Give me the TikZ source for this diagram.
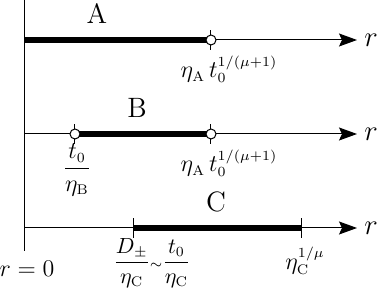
\documentclass[tikz,border=0pt]{standalone}
\usepackage{amsmath}
\DeclareMathSizes{11.5}{11.5}{7.5}{5.5}
\DeclareMathSizes{10.5}{10.5}{7}{5}
\usetikzlibrary{arrows.meta}
\begin{document}
\begin{tikzpicture}[x=0.5pt,y=-0.5pt,
  axis/.style={line width=0.5pt,-{Stealth[length=9pt,width=6.5pt,inset=1.5pt]}},
  seg/.style={line width=3pt},
  tick/.style={line width=0.5pt},
  hole/.style={circle,draw,fill=white,line width=0.5pt,inner sep=0pt,minimum size=5pt},
  lbl/.style={font=\fontsize{14}{16}\selectfont,inner sep=0pt},
  rlbl/.style={font=\fontsize{15}{17}\selectfont,inner sep=0pt},
  mlbl/.style={font=\fontsize{11.5}{13}\selectfont,inner sep=0pt},
  slbl/.style={font=\fontsize{10.5}{12}\selectfont,inner sep=0pt}]
\useasboundingbox (0,0) rectangle (382,288);
% vertical axis
\coordinate (top) at (25,0);
\coordinate (bot) at (25,251);
\draw[line width=0.5pt] (top) -- (bot);
% axis A
\coordinate (A0) at (25,40);
\coordinate (A1) at (211,40);
\coordinate (Ae) at (357,40);
\draw[axis] (A0) -- (Ae);
\draw[seg] (A0) -- (A1);
\draw[tick] ([yshift=-5pt]A1) -- ([yshift=5pt]A1);
\node[hole] (hA1) at (A1) {};
\node[rlbl] (rA) at (371,40) {$r$};
\node[lbl] (la) at (97,14) {A};
\node[mlbl] (etaA) at (229,69) {$\eta_{\mathrm{A}}\,t_0^{1/(\mu+1)}$};
% axis B
\coordinate (B0) at (25,134);
\coordinate (B1) at (75,134);
\coordinate (B2) at (211,134);
\coordinate (Be) at (357,134);
\draw[axis] (B0) -- (Be);
\draw[seg] (B1) -- (B2);
\draw[tick] ([yshift=-5pt]B1) -- ([yshift=5pt]B1);
\draw[tick] ([yshift=-5pt]B2) -- ([yshift=5pt]B2);
\node[hole] (hB1) at (B1) {};
\node[hole] (hB2) at (B2) {};
\node[rlbl] (rB) at (371,134) {$r$};
\node[lbl] (lb) at (137,108) {B};
\node[mlbl] (tB) at (77,170) {$\dfrac{t_0}{\eta_{\mathrm{B}}}$};
\node[mlbl] (etaB) at (229,163) {$\eta_{\mathrm{A}}\,t_0^{1/(\mu+1)}$};
% axis C
\coordinate (C0) at (25,228);
\coordinate (C1) at (134,228);
\coordinate (C2) at (302,228);
\coordinate (Ce) at (357,228);
\draw[axis] (C0) -- (Ce);
\draw[seg] (C1) -- (C2);
\draw[tick] ([yshift=-5pt]C1) -- ([yshift=5pt]C1);
\draw[tick] ([yshift=-5pt]C2) -- ([yshift=5pt]C2);
\node[rlbl] (rC) at (371,228) {$r$};
\node[lbl] (lc) at (216,202) {C};
\node[slbl] (dC) at (152,263) {$\dfrac{D_\pm}{\eta_{\mathrm{C}}}{\scriptstyle\sim}\dfrac{t_0}{\eta_{\mathrm{C}}}$};
\node[mlbl] (eC) at (305,261) {$\eta_{\mathrm{C}}^{1/\mu}$};
\node[mlbl] (r0) at (27,269) {$r=0$};
\end{tikzpicture}
\end{document}
